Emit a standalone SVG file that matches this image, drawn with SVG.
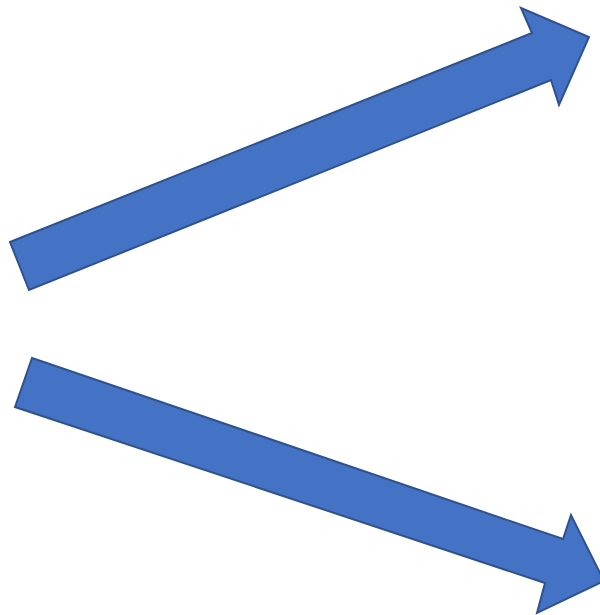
<svg xmlns="http://www.w3.org/2000/svg" width="600" height="615" viewBox="0 0 600 615">
<style>
.arrow{fill:#4472C4;stroke:#2F528F;stroke-width:2;stroke-linejoin:miter}
</style>
<rect width="600" height="615" fill="#ffffff"/>
<g id="arrow-up">
<polygon class="arrow" points="10,242 532,33 521,8 589,37 559,105 551,80 29,290"/>
</g>
<g id="arrow-down">
<polygon class="arrow" points="32,358 563,539 571,515 604,581 537,613 545,583 15,407"/>
</g>
</svg>
